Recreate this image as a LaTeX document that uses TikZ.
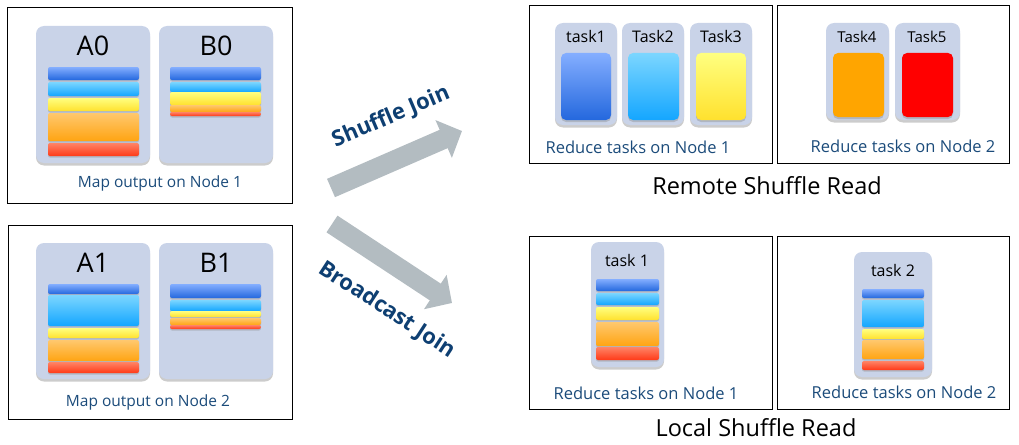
\documentclass[tikz,border=0pt]{standalone}
\usepackage{fontspec}
\setmainfont{Open Sans}
\usetikzlibrary{arrows.meta, shadows}

\definecolor{cardbg}{HTML}{C9D3E8}
\definecolor{captionblue}{HTML}{1B4B7A}
\definecolor{joinblue}{HTML}{0E3F72}
\definecolor{arrowgray}{HTML}{B3BCC1}
\definecolor{bluehi}{HTML}{84AEFF}
\definecolor{bluelo}{HTML}{2468DE}
\definecolor{cyanhi}{HTML}{7CD6FF}
\definecolor{cyanlo}{HTML}{14A6FF}
\definecolor{yellowhi}{HTML}{FFFF80}
\definecolor{yellowlo}{HTML}{FFE12E}
\definecolor{orangehi}{HTML}{FFC86E}
\definecolor{orangelo}{HTML}{FFA412}
\definecolor{redhi}{HTML}{FF8466}
\definecolor{redlo}{HTML}{FF3A18}
\definecolor{taskorange}{HTML}{FFA500}
\definecolor{taskred}{HTML}{FF0000}

\begin{document}
\begin{tikzpicture}[x=1pt, y=-1pt,
    nodebox/.style={draw=black, line width=1pt},
    card/.style={fill=cardbg, rounded corners=8pt,
        drop shadow={shadow xshift=0pt, shadow yshift=-2.5pt, opacity=0.4}},
    stripe/.style={top color=#1hi, bottom color=#1lo, rounded corners=2pt,
        drop shadow={shadow xshift=0pt, shadow yshift=-1.5pt, opacity=0.35}},
    taskblock/.style={top color=#1hi, bottom color=#1lo, rounded corners=5pt,
        drop shadow={shadow xshift=0pt, shadow yshift=-2pt, opacity=0.35}},
    flatblock/.style={fill=#1, rounded corners=5pt,
        drop shadow={shadow xshift=0pt, shadow yshift=-2pt, opacity=0.35}},
    caption/.style={text=captionblue, font=\fontsize{15.5}{18}\selectfont},
    tasklabel/.style={font=\fontsize{16}{19}\selectfont},
    biglabel/.style={font=\fontsize{27}{30}\selectfont},
    readtitle/.style={font=\fontsize{23.5}{27}\selectfont},
    joinlabel/.style={text=joinblue, font=\bfseries\fontsize{22}{26}\selectfont},
    bigarrow/.style={draw=arrowgray, line width=20pt,
        -{Triangle[length=20pt, width=40pt]}}]
    \useasboundingbox (0,0) rectangle (1019,444);

    % Map side, Node 1
    \draw[nodebox] (7,8) rectangle (292,203);
    \path[card] (36,26) rectangle (150,163);
    \path[card] (159,26) rectangle (273,163);
    \node[biglabel] (a0) at (93,46) {A0};
    \node[biglabel] (b0) at (216,46) {B0};
    \foreach \ya/\yb/\c in {67/80/blue, 82/96/cyan, 98/111/yellow, 113/141/orange, 143/156/red}
        \path[stripe=\c] (48,\ya) rectangle (139,\yb);
    \foreach \ya/\yb/\c in {67/80/blue, 82/92/cyan, 92/105/yellow, 105/112/orange, 112/116/red}
        \path[stripe=\c] (170,\ya) rectangle (261,\yb);
    \node[caption] (map1) at (160,183) {Map output on Node 1};

    % Map side, Node 2
    \draw[nodebox] (8,225) rectangle (292,419);
    \path[card] (36,243) rectangle (150,379);
    \path[card] (159,243) rectangle (273,379);
    \node[biglabel] (a1) at (93,263) {A1};
    \node[biglabel] (b1) at (216,263) {B1};
    \foreach \ya/\yb/\c in {284/294/blue, 295/326/cyan, 328/338/yellow, 340/361/orange, 362/373/red}
        \path[stripe=\c] (48,\ya) rectangle (139,\yb);
    \foreach \ya/\yb/\c in {284/298/blue, 300/311/cyan, 311/317/yellow, 318/325/orange, 325/329/red}
        \path[stripe=\c] (170,\ya) rectangle (261,\yb);
    \node[caption] (map2) at (148,402) {Map output on Node 2};

    % Joins
    \coordinate (sj tail) at (331,188);
    \coordinate (sj head) at (462,131);
    \coordinate (bj tail) at (332,224);
    \coordinate (bj head) at (452,303);
    \draw[bigarrow] (sj tail) -- (sj head);
    \draw[bigarrow] (bj tail) -- (bj head);
    \node[joinlabel, rotate=23] (sj) at (391,117) {Shuffle Join};
    \node[joinlabel, rotate=-33] (bj) at (387,310) {Broadcast Join};

    % Remote shuffle read
    \draw[nodebox] (529,6) rectangle (772,163);
    \draw[nodebox] (777,6) rectangle (1009,163);
    \path[card] (555,23) rectangle (617,125);
    \path[card] (622,23) rectangle (684,125);
    \path[card] (690,23) rectangle (752,125);
    \path[card] (826,23) rectangle (889,120);
    \path[card] (895,23) rectangle (960,120);
    \node[tasklabel] (t1) at (586,36) {task1};
    \node[tasklabel] (t2) at (653,36) {Task2};
    \node[tasklabel] (t3) at (721,36) {Task3};
    \node[tasklabel, font=\fontsize{15}{18}\selectfont] (t4) at (857,37) {Task4};
    \node[tasklabel, font=\fontsize{15}{18}\selectfont] (t5) at (927,37) {Task5};
    \path[taskblock=blue] (561,53) rectangle (611,120);
    \path[taskblock=cyan] (628,53) rectangle (679,120);
    \path[taskblock=yellow] (696,53) rectangle (746,120);
    \path[flatblock=taskorange] (833,53) rectangle (884,117);
    \path[flatblock=taskred] (902,53) rectangle (953,117);
    \node[caption, font=\fontsize{16.5}{19}\selectfont] (rem1) at (638,147) {Reduce tasks on Node 1};
    \node[caption, font=\fontsize{16.5}{19}\selectfont] (rem2) at (903,146) {Reduce tasks on Node 2};
    \node[readtitle] (remote) at (767,186) {Remote Shuffle Read};

    % Local shuffle read
    \draw[nodebox] (529,236) rectangle (772,409);
    \draw[nodebox] (777,236) rectangle (1009,409);
    \path[card] (591,242) rectangle (664,367);
    \path[card] (854,252) rectangle (932,377);
    \node[tasklabel] (lt1) at (627,260) {task 1};
    \node[tasklabel] (lt2) at (893,270) {task 2};
    \foreach \ya/\yb/\c in {279/291/blue, 293/305/cyan, 307/320/yellow, 322/346/orange, 347/360/red}
        \path[stripe=\c] (596,\ya) rectangle (659,\yb);
    \foreach \ya/\yb/\c in {289/298/blue, 300/327/cyan, 329/339/yellow, 340/359/orange, 361/370/red}
        \path[stripe=\c] (862,\ya) rectangle (924,\yb);
    \node[caption, font=\fontsize{16.5}{19}\selectfont] (loc1) at (646,393) {Reduce tasks on Node 1};
    \node[caption, font=\fontsize{16.5}{19}\selectfont] (loc2) at (904,392) {Reduce tasks on Node 2};
    \node[readtitle] (local) at (756,428) {Local Shuffle Read};
\end{tikzpicture}
\end{document}
